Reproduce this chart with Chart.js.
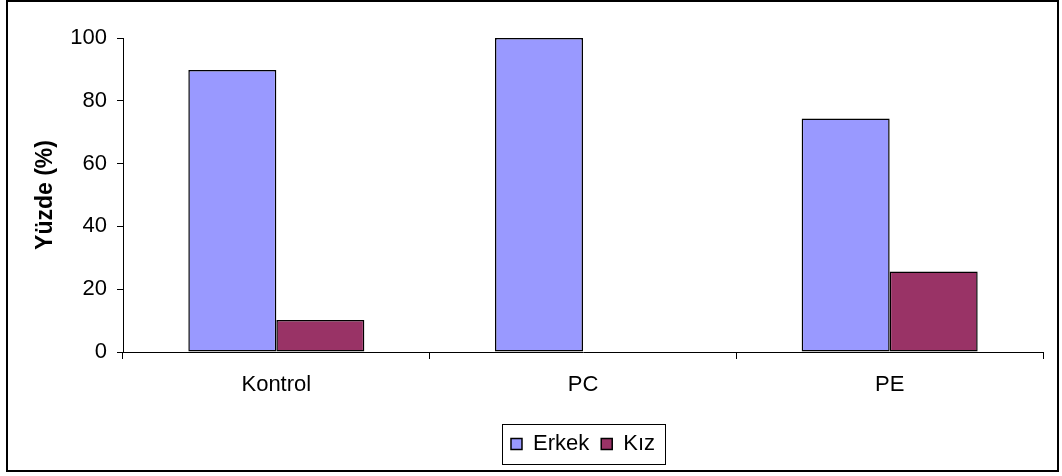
<!DOCTYPE html>
<html>
<head>
<meta charset="utf-8">
<script src="https://cdn.jsdelivr.net/npm/chart.js@4/dist/chart.umd.min.js"></script>
<style>
  html, body { margin: 0; padding: 0; background: #fff; }
  #wrap { position: relative; width: 1062px; height: 476px; overflow: hidden; }
  #frame { position: absolute; left: 6px; top: 0px; width: 1053px; height: 472px; box-sizing: border-box; border: 2px solid #000; pointer-events: none; }
  canvas { position: absolute; left: 0; top: 0; }
</style>
</head>
<body>
<div id="wrap">
  <canvas id="c" width="1062" height="476"></canvas>
  <div id="frame"></div>
</div>
<script>
const categories = ["Kontrol", "PC", "PE"];
const erkekValues = [89.8, 100, 74.4];
const kizValues = [10.2, 0, 25.6];
const seriesNames = ["Erkek", "Kız"];
const yTickValues = [0, 20, 40, 60, 80, 100];
const yAxisTitle = "Yüzde (%)";

Chart.defaults.font.family = "'Liberation Sans', Arial, sans-serif";
Chart.defaults.font.size = 22;
Chart.defaults.color = "#000";

const legendFramePlugin = {
  id: 'legendFrame',
  afterLayout(chart) {
    const lg = chart.legend;
    if (!lg) return;
    const ca = chart.chartArea;
    lg.left = ca.left;
    lg.right = ca.right;
    lg.width = ca.right - ca.left;
    if (typeof lg.adjustHitBoxes === 'function') lg.adjustHitBoxes();
  },
  afterDraw(chart) {
    const lg = chart.legend;
    if (!lg || !lg.legendHitBoxes || !lg.legendHitBoxes.length) return;
    const hb = lg.legendHitBoxes;
    let l = Infinity, r = -Infinity;
    hb.forEach(h => { l = Math.min(l, h.left); r = Math.max(r, h.left + h.width); });
    const ctx = chart.ctx;
    ctx.save();
    ctx.strokeStyle = '#000';
    ctx.lineWidth = 1;
    const top = Math.round(lg.top + 3) + 0.5;
    const bottom = Math.round(lg.top + 43) + 0.5;
    ctx.strokeRect(Math.round(l - 9) + 0.5, top, Math.round(r + 10 - (l - 9)), bottom - top);
    ctx.restore();
  }
};

new Chart(document.getElementById('c'), {
  type: 'bar',
  data: {
    labels: categories,
    datasets: [
      { label: seriesNames[0], data: erkekValues, backgroundColor: '#9999FF', borderColor: '#000', borderWidth: 1.5, borderSkipped: false },
      { label: seriesNames[1], data: kizValues, backgroundColor: '#993366', borderColor: '#000', borderWidth: 1.5, borderSkipped: false }
    ]
  },
  options: {
    responsive: false,
    animation: false,
    devicePixelRatio: 1,
    layout: { padding: { top: 38, right: 19, bottom: 11, left: 0 } },
    datasets: { bar: { categoryPercentage: 0.574, barPercentage: 1.0 } },
    plugins: {
      legend: {
        position: 'bottom',
        labels: { boxWidth: 11, boxHeight: 11, padding: 12, font: { size: 22 }, color: '#000' }
      },
      tooltip: { enabled: false },
      title: { display: false }
    },
    scales: {
      x: {
        type: 'category',
        offset: true,
        grid: { offset: true, drawOnChartArea: false, tickLength: 7, color: '#000', lineWidth: 1 },
        border: { color: '#000', width: 1 },
        ticks: { padding: 13, font: { size: 22 }, color: '#000', maxRotation: 0 },
        afterFit(scale) { scale.height = 69; }
      },
      y: {
        min: 0,
        max: 100,
        afterBuildTicks(scale) { scale.ticks = yTickValues.map(v => ({ value: v })); },
        grid: { drawOnChartArea: false, tickLength: 6, color: '#000', lineWidth: 1 },
        border: { color: '#000', width: 1 },
        ticks: { padding: 10, font: { size: 22 }, color: '#000' },
        title: { display: true, text: yAxisTitle, font: { size: 23, weight: 'bold' }, color: '#000', padding: { top: 32, bottom: 0 } },
        afterFit(scale) { scale.width = 123; }
      }
    }
  },
  plugins: [legendFramePlugin]
});
</script>
</body>
</html>
